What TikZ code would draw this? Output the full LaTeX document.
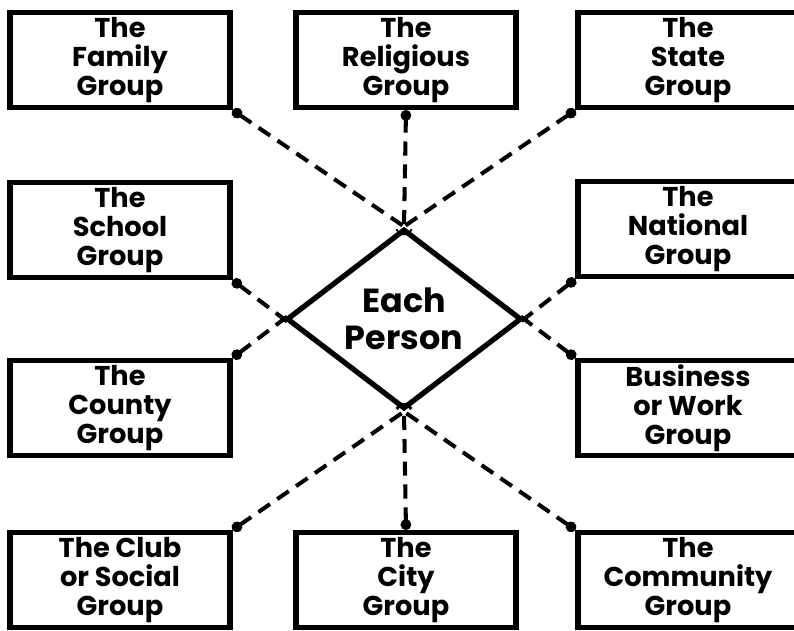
\documentclass[tikz,border=0pt]{standalone}
\usepackage{fontspec}
\setmainfont{Poppins}
\usetikzlibrary{arrows.meta,positioning,shapes.geometric}

\begin{document}
\begin{tikzpicture}[x=0.02cm,y=-0.02cm,
      grp/.style={draw,line width=3pt,align=center,minimum width=4.4cm,minimum height=1.9cm,inner sep=0pt,font=\fontsize{15.5}{16.5}\selectfont\bfseries},
      link/.style={line width=2.3pt,dash pattern=on 8pt off 5pt,{Circle[length=6pt]}-,shorten >=-5pt},
      >=Latex
]
\useasboundingbox (0,0) rectangle (794,630);
\clip (0,0) rectangle (794,630);
% groups round the person
\node[grp] (family) at (120,60) {The\\Family\\Group};
\node[grp] (religious) at (406,60) {The\\Religious\\Group};
\node[grp] (state) at (688,60) {The\\State\\Group};
\node[grp] (school) at (120,230) {The\\School\\Group};
\node[grp] (national) at (688,229) {The\\National\\Group};
\node[grp] (county) at (120,408) {The\\County\\Group};
\node[grp] (business) at (688,408) {Business\\or Work\\Group};
\node[grp] (club) at (120,580) {The Club\\or Social\\Group};
\node[grp] (city) at (406,580) {The\\City\\Group};
\node[grp] (community) at (688,580) {The\\Community\\Group};
\node[diamond,draw,line width=3pt,minimum width=4.7cm,minimum height=3.4cm,inner sep=0pt,align=center,font=\fontsize{19}{21}\selectfont\bfseries] (person) at (404,319) {Each\\Person};
\draw[link] (family.south east) -- (person.north);
\draw[link] (religious.south) -- (person.north);
\draw[link] (state.south west) -- (person.north);
\draw[link] (school.south east) -- (person.west);
\draw[link] (national.south west) -- (person.east);
\draw[link] (county.north east) -- (person.west);
\draw[link] (business.north west) -- (person.east);
\draw[link] (club.north east) -- (person.south);
\draw[link] (city.north) -- (person.south);
\draw[link] (community.north west) -- (person.south);
\end{tikzpicture}
\end{document}
